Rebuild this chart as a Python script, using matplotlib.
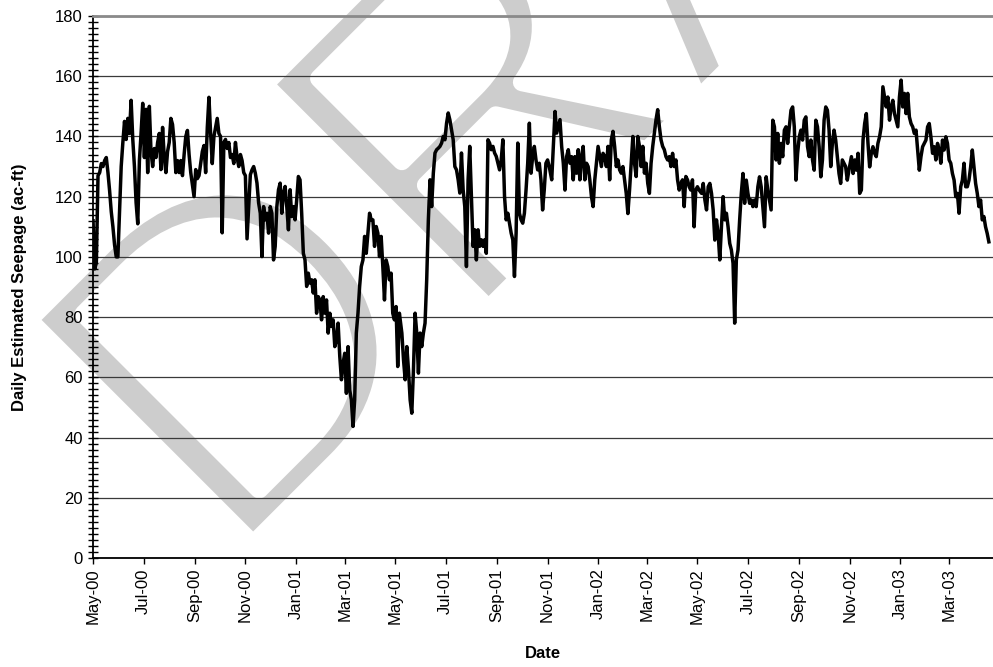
import numpy as np
import pandas as pd
import matplotlib
matplotlib.use('Agg')
import matplotlib.pyplot as plt
import matplotlib.dates as mdates
import matplotlib.patheffects as pe
from matplotlib.ticker import MultipleLocator

# daily estimated seepage (ac-ft), every ~2 days, in six pieces
start_1 = '2000-05-01'
seep_1 = [112, 96, 98, 127, 128, 131, 130, 132, 133, 128, 122, 115, 110, 104, 100, 100,
          115, 130, 138, 145, 139, 146, 141, 152, 139, 130, 118, 111, 132, 141, 151, 133,
          149, 128, 150, 135, 130, 136, 133, 138, 141, 129, 143, 133, 128, 135, 138, 146,
          144, 138, 128, 132, 128, 132, 127, 134, 140, 142, 134, 128, 124, 120, 129, 126,
          127, 131, 135, 137, 128, 143, 153, 141, 131, 140, 143, 146, 141, 140, 108, 138,
          139, 136, 138, 133, 134, 131, 138, 133, 130, 134, 132, 128, 127, 106]

start_2 = '2000-11-07'
seep_2 = [127.3, 128.9, 130, 127.8, 124.5, 117.9, 114.5, 100.1, 116.7, 112.3, 114.5, 107.9,
          116.7, 114.5, 99, 103.5, 116.7, 122.3, 124.5, 114.5, 121.2, 123.4, 116.7, 109,
          122.3, 113.4, 116.7, 112.3, 119, 126.7, 125.6, 114.5, 101.2, 99, 90.2, 94.6,
          91.3, 92.4, 88, 92.4, 81.3, 86.8, 85.7, 79.1, 86.8, 81.3, 85.7, 74.7,
          81.3, 76.9, 79.1, 70.2, 72.4, 78, 67, 59.2, 64.7, 68, 54.7, 70.2,
          55.8, 52.5, 43.7, 52.5, 74.7, 81.3, 90.2, 96.8, 99, 106.8, 101.2, 107.9,
          114.5, 112.3, 112.3, 103.5, 110.1, 107.9, 100.1, 106.8, 96.8, 85.7, 99, 96.8,
          92.4, 94.6, 81.3, 79.1, 83.5, 63.6, 81.3]

start_3 = '2001-05-09'
seep_3 = [74.7, 65.8, 59.2, 70.2, 62.5, 52.5, 48.1, 62.5, 81.3, 74.7, 61.4, 74.7,
          70.2, 74.7, 78, 92.4, 112.3, 125.6, 116.7, 127.8, 134.5, 135.6, 136.1, 136.7,
          137.8, 140, 138.9, 144.4, 147.8, 145.5, 142.2, 138.9, 130, 128.9, 125.6, 121.2,
          134.5, 122.3, 116.7, 96.8, 125.6, 136.7, 120.1, 103.5, 109, 99, 109, 103.5,
          105.7, 103.5, 105.7, 101.2, 138.9, 137.8, 135.6, 136.7, 134.5, 133.4, 131.1, 128.9,
          132.2, 138.9, 120.1, 112.3, 114.5, 111.2, 107.9, 105.7, 93.5, 107.9, 137.8, 114.5,
          112.3, 111.2, 114.5, 122.3, 131.1, 144.4, 127.8, 133.4, 136.7, 132.2, 128.9, 131.1,
          125.6, 115.6, 122.3, 131.1, 132.2, 130]

start_4 = '2001-11-06'
seep_4 = [125.6, 136.7, 148.3, 141.1, 143.3, 145.6, 136.7, 131.1, 122.2, 133.3, 135.6, 131.1,
          133.3, 125.6, 133.3, 127.8, 135.6, 125.6, 133.3, 136.7, 125.6, 131.1, 130, 125.6,
          120, 116.7, 125.6, 131.1, 136.7, 133.3, 130, 134.4, 133.3, 130, 136.7, 125.6,
          138.9, 141.7, 136.7, 130, 132.2, 128.9, 127.8, 130, 125.6, 121.1, 114.4, 122.2,
          131.1, 140, 131.1, 126.7, 140, 136.7, 130, 136.7, 127.8, 131.1, 124.4, 121.1,
          131.1, 136.7, 141.1, 145.6, 148.9, 143.3, 138.9, 136.7, 135.6, 133.3, 132.2, 133.3,
          130, 134.4, 130, 132.2, 125.6, 122.2, 124.4, 125.6, 116.7, 126.7, 125.6, 123.3,
          122.2, 125.6, 110, 122.2, 123.3, 122.2]

start_5 = '2002-05-06'
seep_5 = [121.1, 124.4, 118.9, 115.6, 123.3, 124.4, 121.1, 115.6, 105.6, 112.3, 107.8, 99,
          110, 120, 112.3, 114.5, 110, 104.5, 102.3, 97.9, 78, 99, 102.3, 112.3,
          121.1, 127.7, 117.8, 125.5, 121.1, 117.8, 118.9, 116.7, 118.9, 116.7, 123.3, 126.6,
          123.3, 116.7, 110, 126.6, 122.2, 118.9, 115.6, 145.4, 143.2, 132.2, 141, 131.1,
          137.7, 133.3, 142.1, 143.2, 137.7, 143.2, 148.7, 149.8, 143.2, 125.5, 134.4, 139.9,
          142.1, 138.8, 145.4, 146.5, 136.6, 133.3, 138.8, 132.2, 128.8, 145.4, 143.2, 136.6,
          126.6, 132.2, 145.4, 149.8, 148.7, 142.1, 130, 137.7, 142.1, 138.8, 133.3, 127.7,
          124.4, 132.2, 131.1, 130, 125.5, 128.8]

start_6 = '2002-11-03'
seep_6 = [133.3, 127.7, 132.2, 128.8, 134.4, 121.1, 122.2, 138.8, 144.3, 147.6, 137.7, 129.9,
          134.4, 136.6, 134.4, 133.3, 137.7, 139.9, 143.2, 156.5, 153.1, 149.8, 153.1, 145.4,
          149.8, 152, 147.6, 145.4, 143.2, 153.1, 158.7, 149.8, 154.3, 147.6, 154.3, 146.5,
          144.3, 143.2, 141, 142.1, 135.5, 128.8, 133.3, 136.6, 137.7, 138.8, 143.2, 144.3,
          139.9, 134.4, 136.6, 132.2, 137.7, 135.5, 131.1, 138.8, 135.5, 139.9, 137.7, 132.2,
          131.1, 127.7, 125.5, 120, 121.1, 114.5, 123.3, 125.5, 131.1, 123.3, 123.3, 125.5,
          129.9, 135.5, 129.9, 124.4, 121.1, 116.7, 118.9, 112.3, 113.4, 110, 107.8, 105]

pieces = [(start_1, seep_1), (start_2, seep_2), (start_3, seep_3),
          (start_4, seep_4), (start_5, seep_5), (start_6, seep_6)]
series = pd.concat([pd.Series(v, index=pd.date_range(s, periods=len(v), freq='2D'))
                    for s, v in pieces])

plt.rcParams['font.family'] = ['Liberation Sans', 'DejaVu Sans']

fig = plt.figure(figsize=(9.93, 6.67), dpi=100)
ax = fig.add_axes([0.0937, 0.1634, 0.9063, 0.8126])
ax.set_facecolor('none')

# DRAFT watermark behind everything (white edge stroke makes the letters thinner)
fig.text(0.228, 1 - 571 / 667, 'DRAFT', fontsize=332, rotation=45,
         rotation_mode='anchor', ha='left', va='baseline',
         color='#cdcdcd', zorder=-1,
         path_effects=[pe.Normal(), pe.Stroke(linewidth=13, foreground='white')])

ax.plot(series.index, series.values, color='black', lw=2.5, zorder=3)

ax.set_ylim(0, 180)
ax.set_xlim(pd.Timestamp('2000-05-01'), pd.Timestamp('2000-05-01') + pd.Timedelta(days=1087))
ax.yaxis.set_major_locator(MultipleLocator(20))
ax.yaxis.set_minor_locator(MultipleLocator(2))
ax.xaxis.set_major_locator(mdates.MonthLocator(bymonth=[1, 3, 5, 7, 9, 11]))
ax.xaxis.set_major_formatter(mdates.DateFormatter('%b-%y'))

ax.grid(axis='y', color='#3a3a3a', lw=0.9, zorder=1)
ax.tick_params(axis='y', which='both', direction='inout', length=6.5, width=1, labelsize=12, pad=4)
ax.tick_params(axis='x', direction='out', length=4.5, width=1, labelsize=12, pad=3)
plt.setp(ax.get_xticklabels(), rotation=90)

ax.spines['right'].set_visible(False)
ax.spines['top'].set_color('#8a8a8a')
ax.spines['top'].set_linewidth(2)
ax.spines['left'].set_linewidth(1.3)
ax.spines['bottom'].set_linewidth(1.3)

ax.set_ylabel('Daily Estimated Seepage (ac-ft)', fontsize=12, fontweight='bold', labelpad=20)
ax.set_xlabel('Date', fontsize=12, fontweight='bold', labelpad=16)

fig.savefig('out.png', dpi=100)
